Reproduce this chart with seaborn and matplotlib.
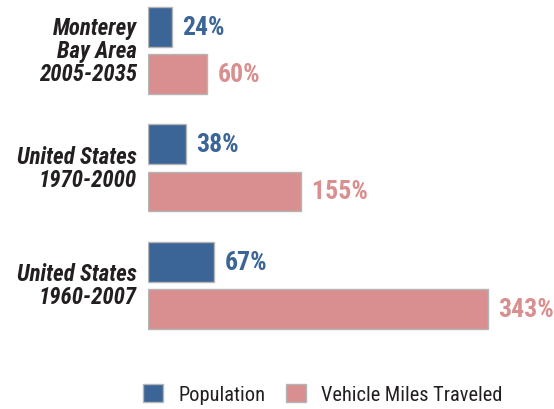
import pandas as pd
import matplotlib
matplotlib.use('Agg')
import matplotlib.pyplot as plt
import seaborn as sns

regions = ['Monterey\nBay Area\n2005-2035', 'United States\n1970-2000', 'United States\n1960-2007']
population = [24, 38, 67]
vmt = [60, 155, 343]
series = ['Population', 'Vehicle Miles Traveled']
colors = ['#3a6596', '#d98f8f']

sns.set_style('white')
plt.rcParams['font.family'] = ['Roboto Condensed', 'DejaVu Sans']
plt.rcParams['font.stretch'] = 'condensed'

df = pd.DataFrame({
    'region': regions * 2,
    'series': [series[0]] * 3 + [series[1]] * 3,
    'value': population + vmt,
})

fig = plt.figure(figsize=(5.54, 4.10), dpi=100)
ax = fig.add_axes([148 / 554, 1 - 345 / 410, 1 - 148 / 554, 345 / 410])

sns.barplot(data=df, y='region', x='value', hue='series', orient='h',
            palette=dict(zip(series, colors)), width=0.8, gap=0.15,
            edgecolor='#b5b5b5', linewidth=1, saturation=1, ax=ax)

ax.set_xlim(0, 410)
ax.set_ylim(2.498, -0.438)
ax.set_xlabel('')
ax.set_ylabel('')
ax.set_xticks([])
ax.set_yticks([])
sns.despine(ax=ax, left=True, bottom=True)

for cont, vals, c in zip(ax.containers, [population, vmt], colors):
    ax.bar_label(cont, labels=[f'{v}%' for v in vals], padding=7.5, color=c,
                 fontsize=18.5, fontweight='bold', fontstretch='condensed')

for i, r in enumerate(regions):
    ax.text(-11, i, r, ha='right', va='center', fontsize=16.5, fontweight='bold',
            fontstyle='italic', fontstretch='condensed', color='#231f20',
            linespacing=1.0)

sns.move_legend(ax, 'lower left', bbox_to_anchor=(143 / 554, 5 / 410),
                bbox_transform=fig.transFigure, ncol=2, frameon=False, title=None,
                fontsize=14.7, handlelength=1.0, handleheight=1.0, columnspacing=1.0,
                handletextpad=0.72, borderpad=0, borderaxespad=0)
for t in ax.get_legend().get_texts():
    t.set_color('#231f20')
    t.set_fontstretch('condensed')

fig.savefig('out.png', dpi=100)
